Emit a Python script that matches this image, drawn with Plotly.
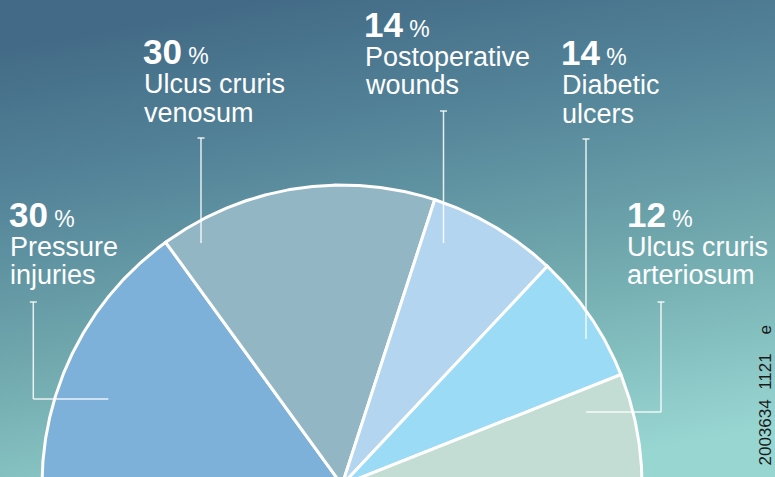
import base64, math
import plotly.graph_objects as go

# ---------------- data ----------------
categories = ["Pressure injuries", "Ulcus cruris venosum", "Postoperative wounds",
              "Diabetic ulcers", "Ulcus cruris arteriosum"]
values = [30, 30, 14, 14, 12]
label_line1 = ["Pressure", "Ulcus cruris", "Postoperative", "Diabetic", "Ulcus cruris"]
label_line2 = ["injuries", "venosum", "wounds", "ulcers", "arteriosum"]
slice_colors = ["#7EB1D9", "#93B6C4", "#B3D5EF", "#9CDBF6", "#C3DDD5"]
code_text = "2003634 1121 e"

W, H = 775, 477

# ---------------- geometry (layout) ----------------
R = 300.0               # pie radius, px  (= 1 axis unit)
CX, CY = 342.0, 485.0   # pie centre, px (slightly below the bottom edge)
x_range = [-CX / R, (W - CX) / R]
y_range = [(CY - H) / R, CY / R]

total = sum(values)
span = 180.0            # the whole chart is a half pie

fig = go.Figure()
acc = 0.0
for name, v, col in zip(categories, values, slice_colors):
    a0 = 180.0 - acc / total * span
    a1 = 180.0 - (acc + v) / total * span
    acc += v
    n = max(int(abs(a0 - a1) * 3), 2)
    angs = [a0 + (a1 - a0) * k / n for k in range(n + 1)]
    xs = [0.0] + [math.cos(math.radians(a)) for a in angs] + [0.0]
    ys = [0.0] + [math.sin(math.radians(a)) for a in angs] + [0.0]
    fig.add_trace(go.Scatter(
        x=xs, y=ys, mode="lines", fill="toself", fillcolor=col,
        line=dict(color="white", width=3), name=name, text=f"{name}: {v} %",
        hoveron="fills", hoverinfo="text", showlegend=False,
    ))

# ---------------- background gradient ----------------
svg = f'''<svg xmlns="http://www.w3.org/2000/svg" width="{W}" height="{H}" viewBox="0 0 {W} {H}" preserveAspectRatio="none">
<defs><linearGradient id="g" x1="0.35" y1="0" x2="0.65" y2="1">
<stop offset="0" stop-color="#436B87"/>
<stop offset="0.3" stop-color="#55869A"/>
<stop offset="0.62" stop-color="#71A9AE"/>
<stop offset="1" stop-color="#98D6D2"/>
</linearGradient></defs>
<rect width="{W}" height="{H}" fill="url(#g)"/></svg>'''
src = "data:image/svg+xml;base64," + base64.b64encode(svg.encode()).decode()

def px(x):
    return x / W

def py(y):
    return 1 - y / H

# ---------------- labels ----------------
label_pos = [(9, 226.7), (143, 64), (364, 36.7), (561, 65), (626.7, 226.7)]
NUM_FS, PCT_FS, TXT_FS = 35, 23, 27
annotations = []
for i, (x0, base) in enumerate(label_pos):
    annotations.append(dict(
        x=px(x0 - 2), y=py(base - 0.3465 * NUM_FS), xref="paper", yref="paper",
        xanchor="left", yanchor="middle", showarrow=False,
        text=f"<b>{values[i]}</b><span style='font-size:{PCT_FS}px'> %</span>",
        font=dict(family="Liberation Sans, Arial", size=NUM_FS, color="white")))
    for j, line in enumerate([label_line1[i], label_line2[i]]):
        b = base + 29.7 + j * 28.4
        annotations.append(dict(
            x=px(x0 - 1.5), y=py(b - 0.3465 * TXT_FS), xref="paper", yref="paper",
            xanchor="left", yanchor="middle", showarrow=False, text=line,
            font=dict(family="Liberation Sans, Arial", size=TXT_FS, color="white")))

parts = code_text.split(" ")
code_display = parts[0] + "\u00a0 " + parts[1] + "\u00a0\u00a0\u00a0 " + parts[2]
annotations.append(dict(
    x=1, y=py(395), xref="paper", yref="paper", xanchor="right", yanchor="middle",
    showarrow=False, textangle=-90, text=code_display, borderpad=0,
    font=dict(family="Liberation Sans, Arial", size=17, color="#1B1B1B")))

# ---------------- leader lines ----------------
leaders = [
    [(33.3, 302), (33.3, 399), (108.3, 399)],
    [(201, 138), (201, 243)],
    [(443.5, 111), (443.5, 243)],
    [(586, 139), (586, 339)],
    [(661, 302), (661, 412), (586, 412)],
]
lc = "rgba(255,255,255,0.85)"
shapes = []
for pts in leaders:
    for (xa, ya), (xb, yb) in zip(pts[:-1], pts[1:]):
        shapes.append(dict(type="line", xref="paper", yref="paper",
                           x0=px(xa), y0=py(ya), x1=px(xb), y1=py(yb),
                           line=dict(color=lc, width=1.5)))
    xt, yt = pts[0]
    shapes.append(dict(type="line", xref="paper", yref="paper",
                       x0=px(xt - 3.5), y0=py(yt), x1=px(xt + 3.5), y1=py(yt),
                       line=dict(color=lc, width=1.5)))

fig.update_layout(
    width=W, height=H,
    margin=dict(l=0, r=0, t=0, b=0, pad=0),
    paper_bgcolor="#6A9FA8",
    plot_bgcolor="rgba(0,0,0,0)",
    images=[dict(source=src, xref="paper", yref="paper", x=0, y=1, sizex=1, sizey=1,
                 sizing="stretch", xanchor="left", yanchor="top", layer="below")],
    xaxis=dict(range=x_range, visible=False, fixedrange=True),
    yaxis=dict(range=y_range, visible=False, fixedrange=True),
    annotations=annotations,
    shapes=shapes,
    showlegend=False,
)

fig.write_html(
    "out.html",
    config={"displayModeBar": False},
    post_script="document.body.style.margin='0';document.body.style.overflow='hidden';",
)
